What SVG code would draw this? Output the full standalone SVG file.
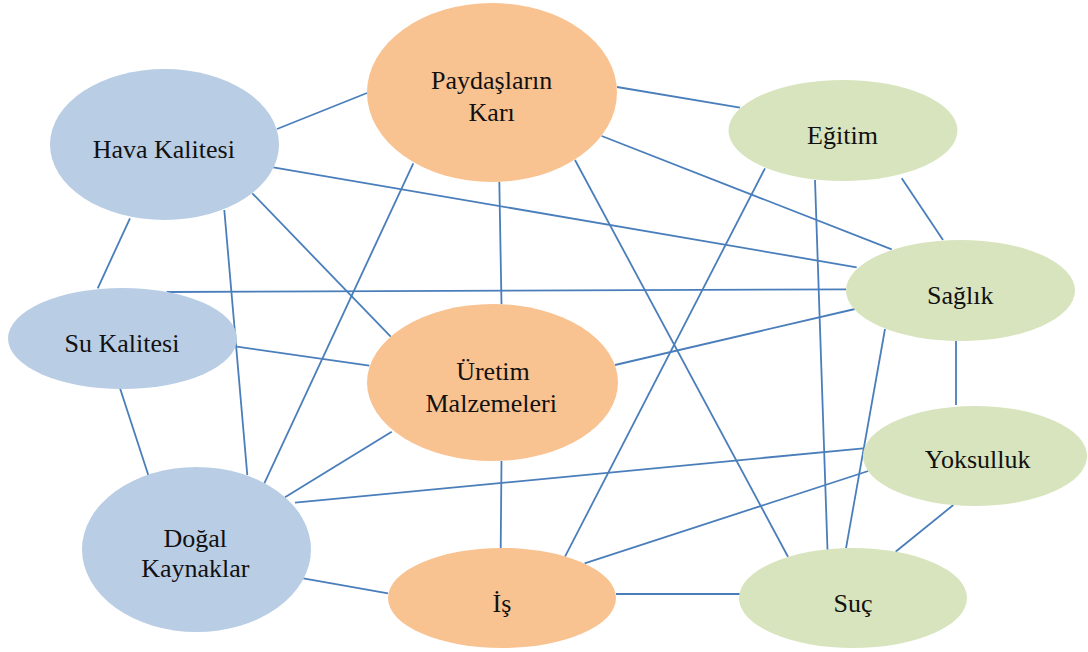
<svg xmlns="http://www.w3.org/2000/svg" width="1088" height="652" viewBox="0 0 1088 652">
  <style>
    .edge { stroke: #4A7EBB; stroke-width: 1.8; fill: none; }
    .blue { fill: #B9CDE5; }
    .orange { fill: #F9C291; }
    .green { fill: #D7E4BD; }
    .label { font-size: 26px; fill: #111; text-anchor: middle; }
  </style>
  <rect width="1088" height="652" fill="#ffffff"/>

  <!-- connectors (drawn beneath the nodes) -->
  <g id="connectors">
    <line class="edge" x1="277" y1="129" x2="367" y2="93"/>
    <line class="edge" x1="617" y1="87" x2="740" y2="107.7"/>
    <line class="edge" x1="601.7" y1="136" x2="891.7" y2="249.3"/>
    <line class="edge" x1="575" y1="160" x2="788" y2="556.7"/>
    <line class="edge" x1="499.3" y1="181.7" x2="501.5" y2="304.3"/>
    <line class="edge" x1="413.3" y1="163.3" x2="264.3" y2="483.3"/>
    <line class="edge" x1="273.3" y1="167.3" x2="856.7" y2="267.3"/>
    <line class="edge" x1="252.3" y1="193.3" x2="390.7" y2="336.7"/>
    <line class="edge" x1="224.3" y1="210" x2="247.3" y2="475"/>
    <line class="edge" x1="130" y1="218.3" x2="97.7" y2="288.3"/>
    <line class="edge" x1="166.7" y1="292" x2="846" y2="289.3"/>
    <line class="edge" x1="236.7" y1="346.7" x2="369.3" y2="365.7"/>
    <line class="edge" x1="120" y1="388.3" x2="148.3" y2="475"/>
    <line class="edge" x1="615" y1="365" x2="855" y2="309"/>
    <line class="edge" x1="391.7" y1="431.7" x2="285" y2="497.3"/>
    <line class="edge" x1="501.5" y1="461" x2="500.7" y2="548"/>
    <line class="edge" x1="765" y1="168.3" x2="565" y2="556.7"/>
    <line class="edge" x1="815" y1="180" x2="827.5" y2="550"/>
    <line class="edge" x1="901.7" y1="178.3" x2="943" y2="240"/>
    <line class="edge" x1="956" y1="341" x2="956" y2="405"/>
    <line class="edge" x1="885" y1="329" x2="846" y2="548.3"/>
    <line class="edge" x1="863.3" y1="448.3" x2="295" y2="502.7"/>
    <line class="edge" x1="868.3" y1="471" x2="584.6" y2="563.3"/>
    <line class="edge" x1="953.3" y1="505" x2="895.6" y2="551.7"/>
    <line class="edge" x1="303.3" y1="578.3" x2="388" y2="593.3"/>
    <line class="edge" x1="616" y1="594" x2="740" y2="594"/>
  </g>

  <g font-family="Liberation Serif, serif">
    <g id="paydaslarin-kari">
      <ellipse class="orange" cx="492" cy="92.5" rx="125" ry="89.5"/>
      <text class="label" font-family="Liberation Serif, serif" x="491.7" y="89">Paydaşların</text>
      <text class="label" font-family="Liberation Serif, serif" x="491.7" y="120.7">Karı</text>
    </g>

    <g id="hava-kalitesi">
      <ellipse class="blue" cx="164.5" cy="144.5" rx="114.5" ry="75.5"/>
      <text class="label" font-family="Liberation Serif, serif" x="163.8" y="158.3">Hava Kalitesi</text>
    </g>

    <g id="egitim">
      <ellipse class="green" cx="843" cy="130.5" rx="114.5" ry="50.5"/>
      <text class="label" font-family="Liberation Serif, serif" x="842.5" y="144">Eğitim</text>
    </g>

    <g id="saglik">
      <ellipse class="green" cx="960.5" cy="290.5" rx="114.5" ry="50.5"/>
      <text class="label" font-family="Liberation Serif, serif" x="960.3" y="304">Sağlık</text>
    </g>

    <g id="su-kalitesi">
      <ellipse class="blue" cx="122.5" cy="338.5" rx="114.5" ry="50.5"/>
      <text class="label" font-family="Liberation Serif, serif" x="122" y="351.7">Su Kalitesi</text>
    </g>

    <g id="uretim-malzemeleri">
      <ellipse class="orange" cx="492.5" cy="382.5" rx="125.5" ry="78.5"/>
      <text class="label" font-family="Liberation Serif, serif" x="493" y="380">Üretim</text>
      <text class="label" font-family="Liberation Serif, serif" x="491.2" y="411.7">Malzemeleri</text>
    </g>

    <g id="yoksulluk">
      <ellipse class="green" cx="975" cy="456" rx="112" ry="50"/>
      <text class="label" font-family="Liberation Serif, serif" x="977.7" y="468">Yoksulluk</text>
    </g>

    <g id="dogal-kaynaklar">
      <ellipse class="blue" cx="196.5" cy="549.5" rx="114.5" ry="82.5"/>
      <text class="label" font-family="Liberation Serif, serif" x="195.3" y="547">Doğal</text>
      <text class="label" font-family="Liberation Serif, serif" x="195.3" y="577">Kaynaklar</text>
    </g>

    <g id="is">
      <ellipse class="orange" cx="502" cy="598" rx="114" ry="50"/>
      <text class="label" font-family="Liberation Serif, serif" x="502" y="611.7">İş</text>
    </g>

    <g id="suc">
      <ellipse class="green" cx="853" cy="598" rx="114" ry="50"/>
      <text class="label" font-family="Liberation Serif, serif" x="853" y="611.7">Suç</text>
    </g>
  </g>
</svg>
